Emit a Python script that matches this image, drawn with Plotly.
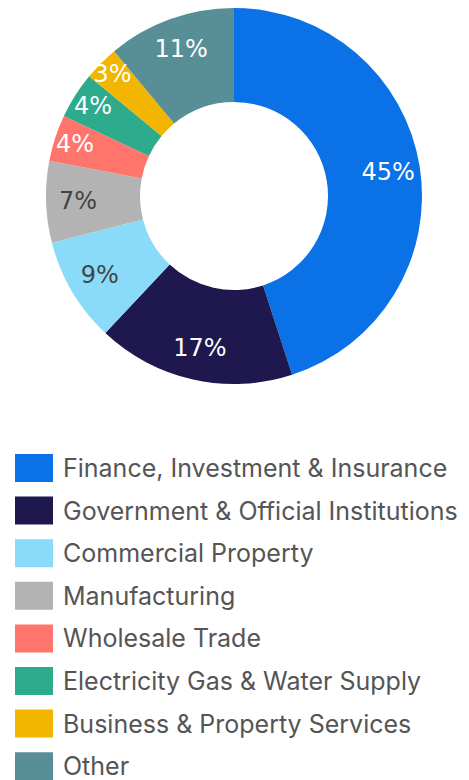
import plotly.graph_objects as go

labels = ["Finance, Investment & Insurance", "Government & Official Institutions",
          "Commercial Property", "Manufacturing", "Wholesale Trade",
          "Electricity Gas & Water Supply", "Business & Property Services", "Other"]
values = [45, 17, 9, 7, 4, 4, 3, 11]
colors = ["#0A72E6", "#1E184E", "#8ADBF9", "#B3B3B3", "#FF756B", "#2DAB8C", "#F2B600", "#588E96"]
text_colors = ["#FFFFFF", "#FFFFFF", "#444444", "#444444", "#FFFFFF", "#FFFFFF", "#FFFFFF", "#FFFFFF"]

W, H = 469, 780
OFF = 8  # page body margin offset

def px(x):
    return (x - OFF) / W

def py(y):
    return 1 - (y - OFF) / H

dom = dict(x=[px(46), px(422)], y=[py(384), 1.0])

# donut ring (colours)
ring = go.Pie(
    labels=labels, values=values, sort=False, direction="clockwise", rotation=0,
    hole=0.5, marker=dict(colors=colors, line=dict(width=0)),
    textinfo="none", showlegend=False, domain=dom,
)
# transparent overlay carrying the percentage labels a bit further out in the ring
label_ring = go.Pie(
    labels=labels, values=values, sort=False, direction="clockwise", rotation=0,
    hole=0.66, marker=dict(colors=["rgba(0,0,0,0)"] * len(values), line=dict(width=0)),
    texttemplate="%{value}%", textposition="inside", insidetextorientation="horizontal",
    insidetextfont=dict(family="DejaVu Sans", size=24, color=text_colors),
    showlegend=False, hoverinfo="skip", domain=dom,
)
fig = go.Figure([ring, label_ring])

shapes, annotations = [], []
for i, (lab, col) in enumerate(zip(labels, colors)):
    top = 454 + i * 42.6
    shapes.append(dict(type="rect", xref="paper", yref="paper",
                       x0=px(15), x1=px(53), y0=py(top + 28), y1=py(top),
                       fillcolor=col, line=dict(width=0)))
    annotations.append(dict(xref="paper", yref="paper", x=px(61), y=py(top + 14),
                            xanchor="left", yanchor="middle", text=lab, showarrow=False,
                            font=dict(family="Inter", size=25, color="#555555")))

fig.update_layout(width=W, height=H, margin=dict(l=0, r=0, t=0, b=0),
                  paper_bgcolor="white", plot_bgcolor="white",
                  uniformtext=dict(minsize=24, mode="show"),
                  shapes=shapes, annotations=annotations)
fig.write_html("out.html")
